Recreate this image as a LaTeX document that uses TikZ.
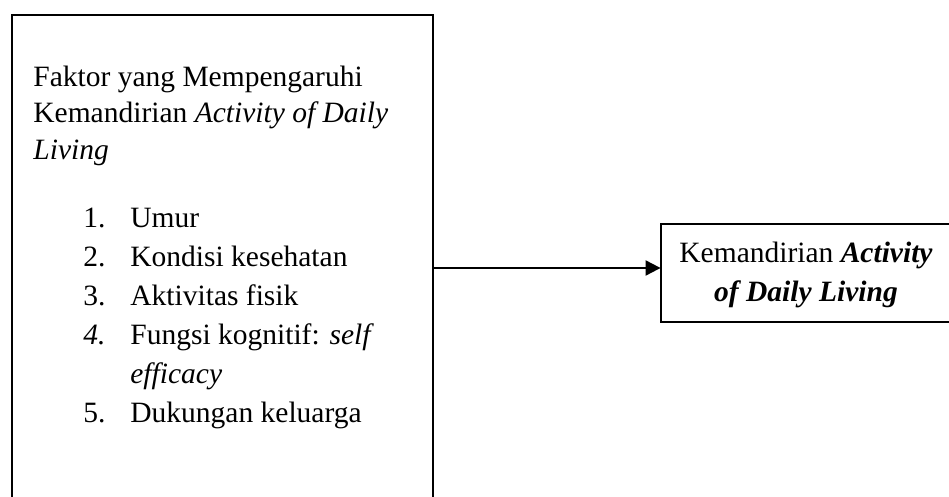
\documentclass[tikz,border=0pt]{standalone}
\usepackage{fontspec}
\setmainfont{Liberation Serif}
\usetikzlibrary{arrows.meta}

\tikzset{
    txt/.style={font=\fontsize{14.75}{18}\selectfont, inner sep=0pt, anchor=base west},
    faktorbox/.style={draw, line width=1.35pt, minimum width=210.5pt, minimum height=252.5pt},
    hasilbox/.style={minimum width=160pt, minimum height=49pt},
    garisbox/.style={line width=1pt},
    panah/.style={line width=1pt, -{Triangle[length=7.5pt, width=7.5pt]}}
}

\begin{document}
\begin{tikzpicture}[x=0.5pt, y=-0.5pt]
    \useasboundingbox (0,0) rectangle (949,497);
    \clip (0,0) rectangle (949,497);

    % Draw nodes
    \node[faktorbox] (faktor) at (222.5,267.5) {};
    \node[hasilbox] (kemandirian) at (821,273) {};
    \draw[garisbox] (kemandirian.north east) -- (kemandirian.north west)
        -- (kemandirian.south west) -- (kemandirian.south east);

    % Labels of the right box
    \node[txt, anchor=base] (hasil1) at (806,263) {Kemandirian \textbf{\textit{Activity}}};
    \node[txt, anchor=base] (hasil2) at (806,302) {\textbf{\textit{of Daily Living}}};

    % Title of the left box
    \node[txt] (judul1) at (33,87) {Faktor yang Mempengaruhi};
    \node[txt] (judul2) at (33,123) {Kemandirian \textit{Activity of Daily}};
    \node[txt] (judul3) at (33,160) {\textit{Living}};

    % List of factors
    \node[txt] (no1) at (83,228) {1.};
    \node[txt] (no2) at (83,267) {2.};
    \node[txt] (no3) at (83,306) {3.};
    \node[txt] (no4) at (83,345) {\textit{4.}};
    \node[txt] (no5) at (83,423) {5.};
    \node[txt] (item1) at (130,228) {Umur};
    \node[txt] (item2) at (130,267) {Kondisi kesehatan};
    \node[txt] (item3) at (130,306) {Aktivitas fisik};
    \node[txt] (item4) at (130,345) {Fungsi kognitif: \textit{self}};
    \node[txt] (item4b) at (130,384) {\textit{efficacy}};
    \node[txt] (item5) at (130,423) {Dukungan keluarga};

    % Draw connections
    \coordinate (garis) at (0,268);
    \draw[panah] (faktor.east |- garis) -- (kemandirian.west |- garis);
\end{tikzpicture}
\end{document}
